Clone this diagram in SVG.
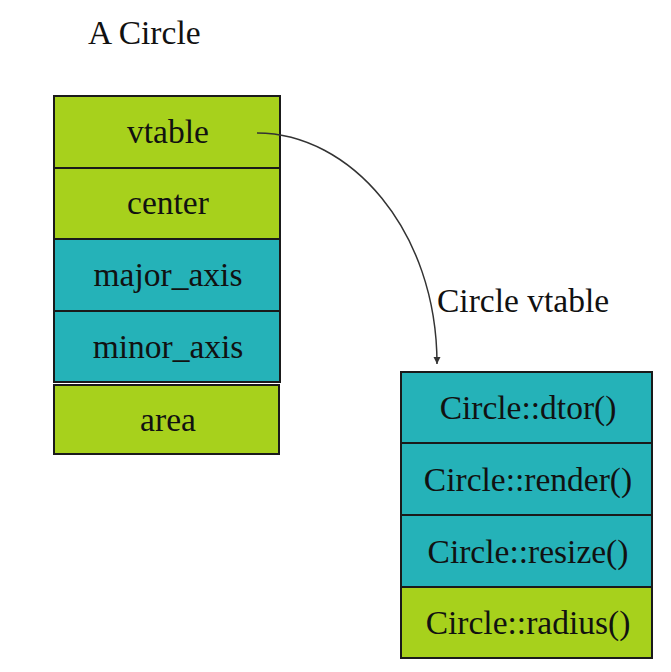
<svg xmlns="http://www.w3.org/2000/svg" width="671" height="672" viewBox="0 0 671 672">
<style>
.g{fill:#a7d11c;stroke:#1a1a1a;stroke-width:2}
.t{fill:#25b2b8;stroke:#1a1a1a;stroke-width:2}
text{font-family:"Liberation Serif","Times New Roman",serif;font-size:33.5px;fill:#111}
.c{text-anchor:middle}
</style>
<defs>
<marker id="ah" markerWidth="8" markerHeight="10" refX="7" refY="5" orient="auto" markerUnits="userSpaceOnUse">
<path d="M0,1.5 L7,5 L0,8.5 Z" fill="#333"/>
</marker>
</defs>
<rect width="671" height="672" fill="#fff"/>
<text x="88" y="44">A Circle</text>
<text x="437" y="312">Circle vtable</text>
<g id="obj">
<g id="vtable"><rect class="g" x="54" y="96" width="226" height="72"/><text class="c" x="168" y="143">vtable</text></g>
<g id="center"><rect class="g" x="54" y="168" width="226" height="71"/><text class="c" x="168" y="214">center</text></g>
<g id="major_axis"><rect class="t" x="54" y="239" width="226" height="72"/><text class="c" x="168" y="286">major_axis</text></g>
<g id="minor_axis"><rect class="t" x="54" y="311" width="226" height="71"/><text class="c" x="168" y="358">minor_axis</text></g>
<g id="area"><rect class="g" x="54" y="385" width="225" height="69"/><text class="c" x="168" y="431">area</text></g>
</g>
<g id="vt">
<g id="dtor"><rect class="t" x="401" y="372" width="251" height="71"/><text class="c" x="528" y="419">Circle::dtor()</text></g>
<g id="render"><rect class="t" x="401" y="443" width="251" height="72"/><text class="c" x="528" y="491">Circle::render()</text></g>
<g id="resize"><rect class="t" x="401" y="515" width="251" height="72"/><text class="c" x="528" y="563">Circle::resize()</text></g>
<g id="radius"><rect class="g" x="401" y="587" width="251" height="71"/><text class="c" x="528" y="634">Circle::radius()</text></g>
</g>
<g id="connectors">
<path d="M257,133 C350,133 437,230 437,364" fill="none" stroke="#333" stroke-width="1.5" marker-end="url(#ah)"/>
</g>
</svg>
